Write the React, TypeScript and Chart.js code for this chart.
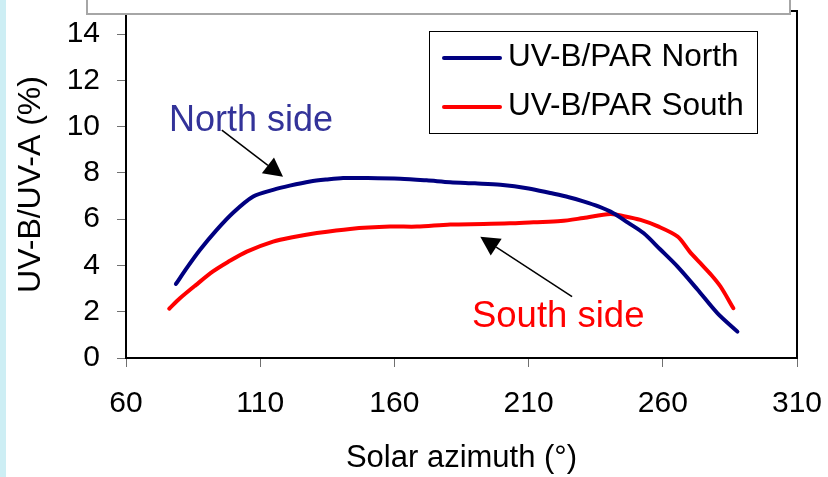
import React, { useEffect, useRef } from 'react';
import { Chart, registerables } from 'chart.js';

Chart.register(...registerables);

const FONT = "'Liberation Sans', Arial, Helvetica, sans-serif";

// Solar azimuth (°) and UV-B/UV-A (%)
const northAzimuth = [78.6, 83, 87.6, 93.8, 99.9, 107.4, 114.8, 121, 128.6, 135, 140.9, 150, 162.2, 172, 180.8, 190, 199.5, 210, 218.1, 225, 230.4, 236, 241.6, 247, 252.8, 259, 265.5, 273, 280.4, 287.8];
const northRatio = [3.2, 3.95, 4.68, 5.54, 6.28, 6.98, 7.27, 7.45, 7.63, 7.72, 7.78, 7.78, 7.75, 7.68, 7.6, 7.55, 7.49, 7.33, 7.13, 6.95, 6.77, 6.55, 6.26, 5.85, 5.4, 4.7, 3.95, 2.95, 1.93, 1.14];

const southAzimuth = [76.1, 80.1, 86, 92.4, 98, 105, 114.8, 122, 131.1, 143.5, 158.4, 168.4, 180.8, 193.2, 203, 211.8, 222, 230.4, 240.5, 246, 251.7, 258, 265.5, 270, 274, 278, 281.5, 286.3];
const southRatio = [2.13, 2.58, 3.15, 3.74, 4.15, 4.6, 5.03, 5.22, 5.4, 5.58, 5.68, 5.68, 5.77, 5.79, 5.82, 5.87, 5.92, 6.05, 6.22, 6.12, 5.97, 5.7, 5.25, 4.6, 4.1, 3.6, 3.09, 2.15];

const seriesLabels = ['UV-B/PAR North', 'UV-B/PAR South'];
const seriesColors = ['#000080', '#ff0000'];

const xTicks = [60, 110, 160, 210, 260, 310];
const yTicks = [0, 2, 4, 6, 8, 10, 12, 14];

// annotation texts and arrows in data coordinates [azimuth, ratio]
const northLabel = 'North side';
const northLabelAt = [76.0, 9.81];
const northArrowFrom = [95.7, 9.85];
const northArrowTo = [118.5, 7.83];
const southLabel = 'South side';
const southLabelAt = [188.9, 1.34];
const southArrowFrom = [226.2, 2.65];
const southArrowTo = [192.0, 5.24];

function drawArrow(ctx: CanvasRenderingContext2D, x1: number, y1: number, x2: number, y2: number) {
  const ang = Math.atan2(y2 - y1, x2 - x1);
  const headLen = 19;
  const headHalf = 10;
  const bx = x2 - headLen * Math.cos(ang);
  const by = y2 - headLen * Math.sin(ang);
  ctx.strokeStyle = '#000';
  ctx.lineWidth = 1.5;
  ctx.beginPath();
  ctx.moveTo(x1, y1);
  ctx.lineTo(bx, by);
  ctx.stroke();
  ctx.fillStyle = '#000';
  ctx.beginPath();
  ctx.moveTo(x2, y2);
  ctx.lineTo(bx + headHalf * Math.sin(ang), by - headHalf * Math.cos(ang));
  ctx.lineTo(bx - headHalf * Math.sin(ang), by + headHalf * Math.cos(ang));
  ctx.closePath();
  ctx.fill();
}

export default function App() {
  const ref = useRef<HTMLCanvasElement>(null);

  useEffect(() => {
    const canvas = ref.current;
    if (!canvas) return;

    const decor = {
      id: 'decor',
      beforeDraw(chart: any) {
        const { ctx, width, height } = chart;
        ctx.save();
        ctx.fillStyle = '#ffffff';
        ctx.fillRect(0, 0, width, height);
        ctx.fillStyle = '#cdeef4';
        ctx.fillRect(0, 0, 6, height);
        ctx.restore();
      },
      afterDraw(chart: any) {
        const { ctx, chartArea: a, scales } = chart;
        const xs = scales.x;
        const ys = scales.y;
        ctx.save();
        // right and top frame
        ctx.strokeStyle = '#000';
        ctx.lineWidth = 2;
        ctx.beginPath();
        ctx.moveTo(a.left, a.top);
        ctx.lineTo(a.right, a.top);
        ctx.lineTo(a.right, a.bottom);
        ctx.stroke();

        // annotations
        ctx.textBaseline = 'alphabetic';
        ctx.textAlign = 'left';
        ctx.font = `36px ${FONT}`;
        ctx.fillStyle = '#333399';
        ctx.fillText(northLabel, xs.getPixelForValue(northLabelAt[0]), ys.getPixelForValue(northLabelAt[1]));
        ctx.font = `36.5px ${FONT}`;
        ctx.fillStyle = '#ff0000';
        ctx.fillText(southLabel, xs.getPixelForValue(southLabelAt[0]), ys.getPixelForValue(southLabelAt[1]));
        drawArrow(ctx,
          xs.getPixelForValue(northArrowFrom[0]), ys.getPixelForValue(northArrowFrom[1]),
          xs.getPixelForValue(northArrowTo[0]), ys.getPixelForValue(northArrowTo[1]));
        drawArrow(ctx,
          xs.getPixelForValue(southArrowFrom[0]), ys.getPixelForValue(southArrowFrom[1]),
          xs.getPixelForValue(southArrowTo[0]), ys.getPixelForValue(southArrowTo[1]));

        // legend
        const lx = 429, ly = 31, lw = 328, lh = 102;
        ctx.fillStyle = '#fff';
        ctx.fillRect(lx, ly, lw, lh);
        ctx.strokeStyle = '#000';
        ctx.lineWidth = 1;
        ctx.strokeRect(lx + 0.5, ly + 0.5, lw, lh);
        chart.data.datasets.forEach((ds: any, i: number) => {
          const cy = 58 + i * 49;
          ctx.strokeStyle = ds.borderColor;
          ctx.lineWidth = 4;
          ctx.lineCap = 'round';
          ctx.beginPath();
          ctx.moveTo(444, cy);
          ctx.lineTo(500, cy);
          ctx.stroke();
          ctx.fillStyle = '#000';
          ctx.font = `31.5px ${FONT}`;
          ctx.textBaseline = 'middle';
          ctx.fillText(ds.label, 508, cy - 1);
        });

        // gray box at the top
        ctx.fillStyle = '#fff';
        ctx.fillRect(87, -4, 703, 18);
        ctx.strokeStyle = '#a6a6a6';
        ctx.lineWidth = 2;
        ctx.strokeRect(87, -4, 703, 18);
        ctx.restore();
      },
    };

    const gridOpts = {
      drawOnChartArea: false,
      drawTicks: true,
      tickLength: 9,
      tickColor: '#707070',
      tickWidth: 1,
    };

    const chart = new Chart(canvas, {
      type: 'line',
      data: {
        datasets: [
          {
            label: seriesLabels[0],
            data: northAzimuth.map((x, i) => ({ x, y: northRatio[i] })),
            borderColor: seriesColors[0],
            backgroundColor: seriesColors[0],
            borderWidth: 4,
            pointRadius: 0,
            tension: 0.3,
            borderCapStyle: 'round',
            borderJoinStyle: 'round',
            fill: false,
          },
          {
            label: seriesLabels[1],
            data: southAzimuth.map((x, i) => ({ x, y: southRatio[i] })),
            borderColor: seriesColors[1],
            backgroundColor: seriesColors[1],
            borderWidth: 4,
            pointRadius: 0,
            tension: 0.3,
            borderCapStyle: 'round',
            borderJoinStyle: 'round',
            fill: false,
          },
        ],
      },
      options: {
        animation: false,
        responsive: false,
        devicePixelRatio: 1,
        layout: { padding: { top: 11, right: 31, bottom: 0, left: 0 } },
        plugins: { legend: { display: false }, tooltip: { enabled: false } },
        scales: {
          x: {
            type: 'linear',
            min: 60,
            max: 310,
            afterBuildTicks: (s: any) => { s.ticks = xTicks.map((v) => ({ value: v })); },
            afterFit: (s: any) => { s.height = 119; s.paddingLeft = 0; s.paddingRight = 0; },
            grid: gridOpts,
            border: { display: true, color: '#000', width: 2 },
            ticks: { font: { family: FONT, size: 30 }, color: '#000', padding: 19, maxRotation: 0, autoSkip: false },
            title: { display: true, text: 'Solar azimuth (°)', color: '#000', font: { family: FONT, size: 31 }, padding: { top: 0, bottom: 0 } },
          },
          y: {
            type: 'linear',
            min: 0,
            max: 15,
            afterBuildTicks: (s: any) => { s.ticks = yTicks.map((v) => ({ value: v })); },
            afterFit: (s: any) => { s.width = 126; s.paddingTop = 0; s.paddingBottom = 0; },
            grid: gridOpts,
            border: { display: true, color: '#000', width: 2 },
            ticks: { font: { family: FONT, size: 30 }, color: '#000', padding: 17 },
            title: { display: true, text: 'UV-B/UV-A (%)', color: '#000', font: { family: FONT, size: 32 }, padding: { top: 12, bottom: 0 } },
          },
        },
      } as any,
      plugins: [decor],
    });

    return () => chart.destroy();
  }, []);

  return (
    <div style={{ position: 'fixed', left: 0, top: 0, width: 828, height: 477, background: '#fff' }}>
      <canvas ref={ref} width={828} height={477} style={{ display: 'block', width: 828, height: 477 }} />
    </div>
  );
}
